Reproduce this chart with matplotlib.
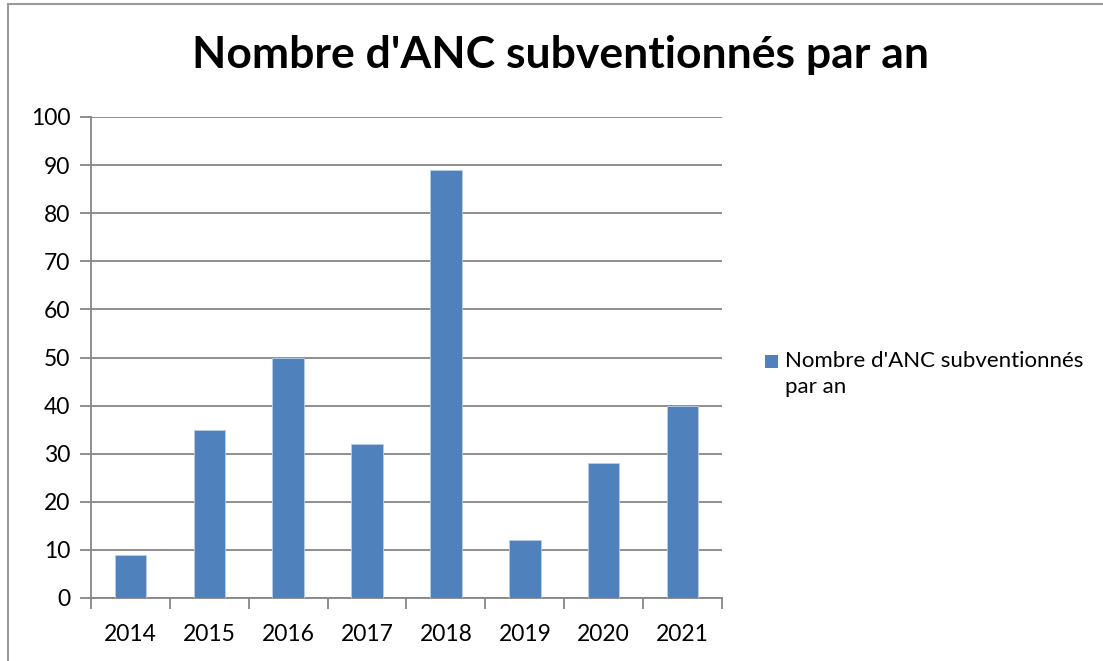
import matplotlib.pyplot as plt
from matplotlib.patches import Rectangle
import numpy as np

plt.rcParams['font.family'] = ['Lato', 'DejaVu Sans']

# Data
years = ['2014', '2015', '2016', '2017', '2018', '2019', '2020', '2021']
counts = [9, 35, 50, 32, 89, 12, 28, 40]
series_name = "Nombre d'ANC subventionnés par an"

bar_color = '#4F81BD'
grid_color = '#868686'

fig = plt.figure(figsize=(11.03, 6.61), dpi=100)
ax = fig.add_axes([91 / 1103, 1 - 598 / 661, (722 - 91) / 1103, (598 - 117) / 661])

x = np.arange(len(years))
ax.bar(x, counts, width=0.4, color=bar_color, edgecolor='#B9CDE5', linewidth=0.6, zorder=3)

ax.set_xlim(-0.5, len(years) - 0.5)
ax.set_ylim(0, 100)
ax.set_yticks(range(0, 101, 10))
ax.yaxis.grid(True, color=grid_color, linewidth=1.3, zorder=0)

# x ticks at category boundaries, labels centred
ax.set_xticks(np.arange(-0.5, len(years), 1))
ax.set_xticklabels([])
ax.set_xticks(x, minor=True)
ax.set_xticklabels(years, minor=True)
ax.tick_params(axis='x', which='major', direction='out', length=8, width=1.3, color=grid_color)
ax.tick_params(axis='x', which='minor', length=0, pad=19, labelsize=16.5)
ax.tick_params(axis='y', direction='out', length=8, width=1.3, color=grid_color, labelsize=16.5, pad=7)

for side in ['top', 'right']:
    ax.spines[side].set_visible(False)
for side in ['left', 'bottom']:
    ax.spines[side].set_color(grid_color)
    ax.spines[side].set_linewidth(1.3)

fig.text(561 / 1103, 1 - 55 / 661, series_name, ha='center', va='center',
         fontsize=32, fontweight='bold')

# Legend drawn by hand to match wrapping
fig.patches.append(Rectangle((765 / 1103, 1 - 368 / 661), 13 / 1103, 13 / 661,
                             transform=fig.transFigure, facecolor=bar_color,
                             edgecolor='none'))
fig.text(785 / 1103, 1 - 351 / 661, "Nombre d'ANC subventionnés\npar an", ha='left', va='top',
         fontsize=16, linespacing=1.4)

# outer frame (top and left edges visible)
fig.add_artist(plt.Line2D([8 / 1103, 1], [1 - 4 / 661, 1 - 4 / 661], color='#9A9A9A', linewidth=1.5,
                          transform=fig.transFigure))
fig.add_artist(plt.Line2D([8 / 1103, 8 / 1103], [0, 1 - 4 / 661], color='#9A9A9A', linewidth=1.5,
                          transform=fig.transFigure))

fig.savefig('out.png', dpi=100)
